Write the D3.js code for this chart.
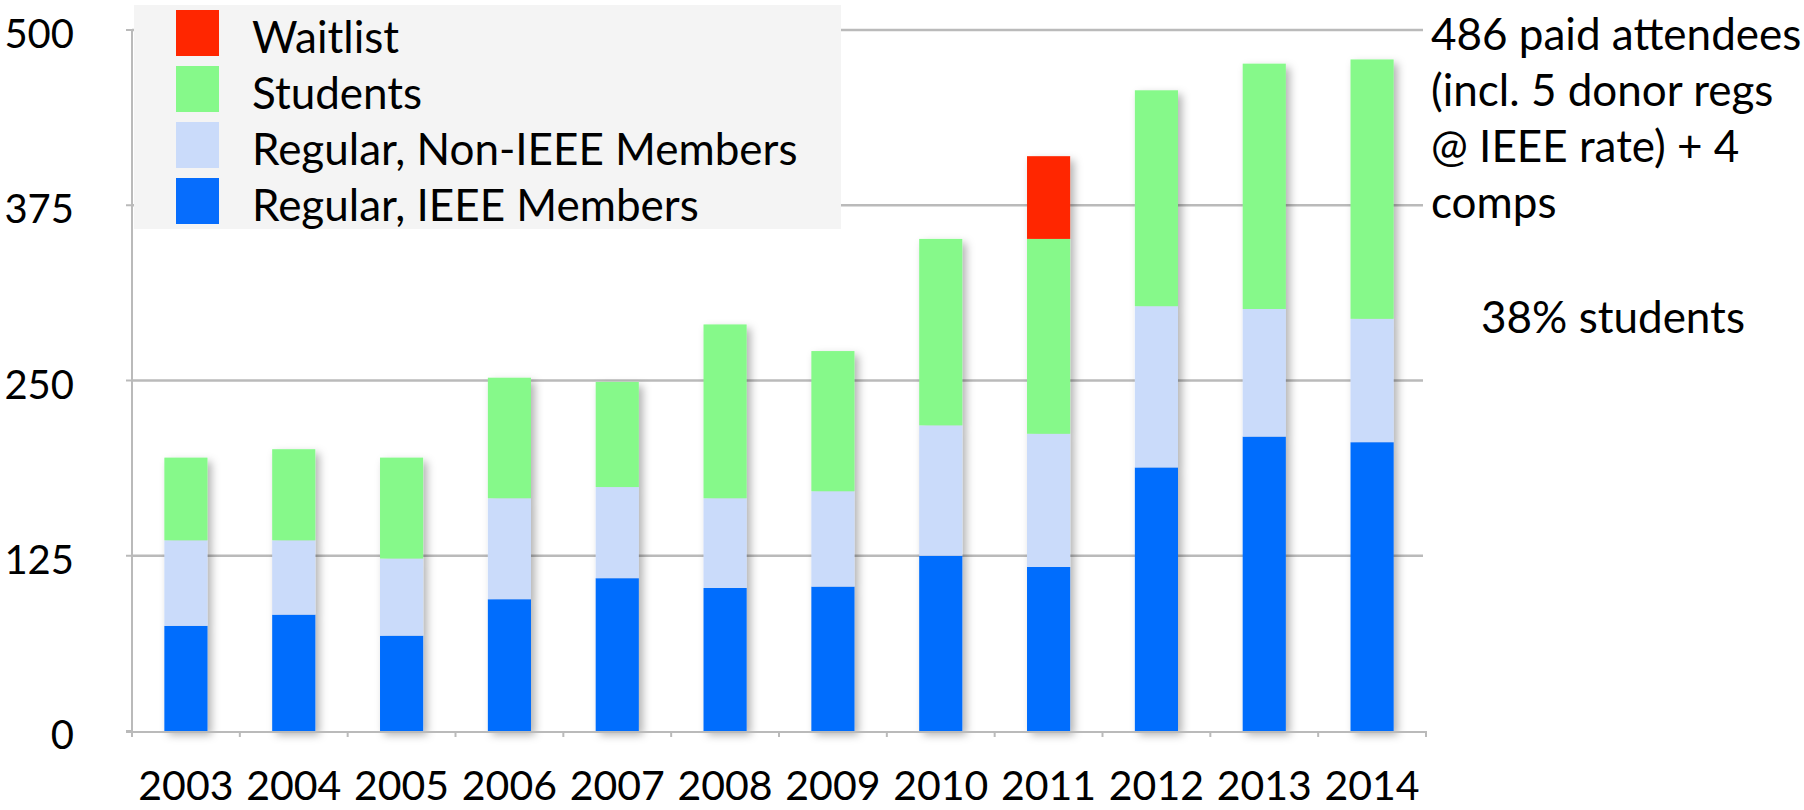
<!doctype html>
<html lang="en">
<head>
<meta charset="utf-8" />
<style>
  body { margin: 0; background: #fff; }
  svg text { font-family: "Lato", "Open Sans", sans-serif; fill: #000; }
  .y-label { font-size: 40px; }
  .x-label { font-size: 41px; }
  .legend-label { font-size: 44px; }
  .note { font-size: 44px; }
</style>
</head>
<body>
<div id="chart"></div>
<script src="https://d3js.org/d3.v7.min.js"></script>
<script>
  // values
  var years = ["2003","2004","2005","2006","2007","2008","2009","2010","2011","2012","2013","2014"];
  var ieee     = [75, 83, 68, 94, 109, 102, 103, 125, 117, 188, 210, 206];
  var nonIeee  = [61, 53, 55, 72, 65, 64, 68, 93, 95, 115, 91, 88];
  var students = [59, 65, 72, 86, 75, 124, 100, 133, 139, 154, 175, 185];
  var waitlist = [0, 0, 0, 0, 0, 0, 0, 0, 59, 0, 0, 0];
  var yTicks = [0, 125, 250, 375, 500];
  var legendLabels = ["Waitlist", "Students", "Regular, Non-IEEE Members", "Regular, IEEE Members"];
  var noteLines = ["486 paid attendees", "(incl. 5 donor regs", "@ IEEE rate) + 4", "comps"];
  var noteStudents = "38% students";

  var width = 1804,
      height = 810;

  var keys = ["ieee", "nonIeee", "students", "waitlist"];
  var colors = {ieee: "#066dfd", nonIeee: "#cadbfa", students: "#86f98a", waitlist: "#ff2600"};

  var rows = years.map(function(y, i) {
    return {year: y, ieee: ieee[i], nonIeee: nonIeee[i], students: students[i], waitlist: waitlist[i]};
  });
  var series = d3.stack().keys(keys)(rows);

  var svg = d3.select("#chart").append("svg")
      .attr("width", width)
      .attr("height", height);

  var defs = svg.append("defs");
  defs.append("filter").attr("id", "shadow")
      .attr("x", "-30%").attr("y", "-10%").attr("width", "160%").attr("height", "120%")
    .append("feDropShadow")
      .attr("dx", 4).attr("dy", 4).attr("stdDeviation", 4)
      .attr("flood-color", "#000").attr("flood-opacity", 0.3);

  var x = d3.scaleBand().domain(years).range([132, 1426]).paddingInner(0.6).paddingOuter(0.3);
  var y = d3.scaleLinear().domain([0, 500]).range([731, 30]);
  var step = x.step();

  // grid lines
  svg.append("g").selectAll("line")
      .data(yTicks.filter(function(t) { return t > 0; }))
    .enter().append("line")
      .attr("x1", 132).attr("x2", 1423)
      .attr("y1", function(d) { return y(d); })
      .attr("y2", function(d) { return y(d); })
      .attr("stroke", "#bababa")
      .attr("stroke-width", 2.5);

  // y axis
  var yAxis = svg.append("g");
  yAxis.append("line")
      .attr("x1", 132).attr("x2", 132)
      .attr("y1", y(500)).attr("y2", y(0))
      .attr("stroke", "#bababa").attr("stroke-width", 2);
  yAxis.selectAll("line.tk")
      .data(yTicks)
    .enter().append("line")
      .attr("class", "tk")
      .attr("x1", 126).attr("x2", 132)
      .attr("y1", function(d) { return y(d); })
      .attr("y2", function(d) { return y(d); })
      .attr("stroke", "#bababa").attr("stroke-width", 2);
  yAxis.selectAll("text")
      .data(yTicks)
    .enter().append("text")
      .attr("class", "y-label")
      .attr("x", 74)
      .attr("y", function(d) { return y(d) + 3; })
      .attr("text-anchor", "end")
      .attr("dominant-baseline", "central")
      .text(function(d) { return d; });

  // bars
  var bars = svg.append("g").selectAll("g")
      .data(years)
    .enter().append("g")
      .attr("filter", "url(#shadow)");

  bars.selectAll("rect")
      .data(function(yr, i) {
        return series.map(function(s) { return {key: s.key, year: yr, v: s[i]}; })
          .filter(function(d) { return d.v[1] > d.v[0]; });
      })
    .enter().append("rect")
      .attr("x", function(d) { return x(d.year); })
      .attr("width", x.bandwidth())
      .attr("y", function(d) { return y(d.v[1]); })
      .attr("height", function(d) { return y(d.v[0]) - y(d.v[1]); })
      .attr("fill", function(d) { return colors[d.key]; });

  // x axis
  var xAxis = svg.append("g");
  xAxis.append("line")
      .attr("x1", 126).attr("x2", 1426)
      .attr("y1", y(0) + 1).attr("y2", y(0) + 1)
      .attr("stroke", "#bababa").attr("stroke-width", 2);
  xAxis.selectAll("line.tk")
      .data(d3.range(years.length + 1))
    .enter().append("line")
      .attr("class", "tk")
      .attr("x1", function(i) { return 132 + i * step; })
      .attr("x2", function(i) { return 132 + i * step; })
      .attr("y1", y(0)).attr("y2", y(0) + 6)
      .attr("stroke", "#bababa").attr("stroke-width", 2);
  xAxis.selectAll("text")
      .data(years)
    .enter().append("text")
      .attr("class", "x-label")
      .attr("x", function(d) { return x(d) + x.bandwidth() / 2; })
      .attr("y", 800)
      .attr("text-anchor", "middle")
      .text(function(d) { return d; });

  // legend
  var legend = svg.append("g");
  legend.append("rect")
      .attr("x", 134).attr("y", 5)
      .attr("width", 707).attr("height", 224)
      .attr("fill", "#f4f4f4");
  var legendColors = [colors.waitlist, colors.students, colors.nonIeee, colors.ieee];
  var item = legend.selectAll("g")
      .data(legendLabels)
    .enter().append("g")
      .attr("transform", function(d, i) { return "translate(0," + (33 + i * 56) + ")"; });
  item.append("rect")
      .attr("x", 176).attr("y", -23)
      .attr("width", 43).attr("height", 46)
      .attr("fill", function(d, i) { return legendColors[i]; });
  item.append("text")
      .attr("class", "legend-label")
      .attr("x", 252).attr("y", 3)
      .attr("dominant-baseline", "central")
      .text(function(d) { return d; });

  // notes on the right
  svg.append("g").selectAll("text")
      .data(noteLines)
    .enter().append("text")
      .attr("class", "note")
      .attr("x", 1431)
      .attr("y", function(d, i) { return 50 + i * 56; })
      .text(function(d) { return d; });

  svg.append("text")
      .attr("class", "note")
      .attr("x", 1613).attr("y", 333)
      .attr("text-anchor", "middle")
      .text(noteStudents);
</script>
</body>
</html>
